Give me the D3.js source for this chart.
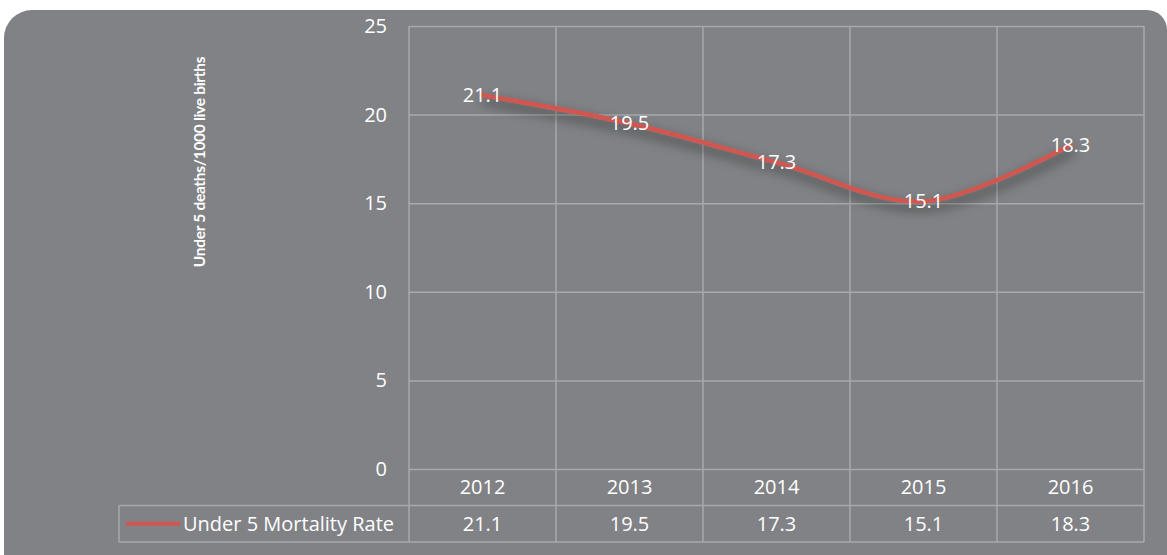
<!DOCTYPE html>
<html>
<head>
<meta charset="utf-8">
<script src="https://cdn.jsdelivr.net/npm/d3@7"></script>
<style>
  html, body { margin: 0; padding: 0; background: #ffffff; }
  #chart { width: 1167px; height: 555px; }
  text { font-family: "Open Sans", sans-serif; fill: #ffffff; }
</style>
</head>
<body>
<div id="chart"></div>
<script>
// data
var years = ["2012", "2013", "2014", "2015", "2016"];
var rates = [21.1, 19.5, 17.3, 15.1, 18.3];
var yTicks = [0, 5, 10, 15, 20, 25];
var seriesName = "Under 5 Mortality Rate";
var yTitle = "Under 5 deaths/1000 live births";

var W = 1167, H = 555;
var plot = { left: 409, right: 1144, top: 26, bottom: 469 };
var rowH = 36.5;
var legendLeft = 119;

var gridColor = "#a7a9ac";
var lineColor = "#d0574f";
var fontSize = "20px";

var svg = d3.select("#chart").append("svg")
    .attr("width", W)
    .attr("height", H);

var defs = svg.append("defs");
var shadow = defs.append("filter")
    .attr("id", "shadow")
    .attr("x", "-10%").attr("y", "-40%")
    .attr("width", "120%").attr("height", "180%");
shadow.append("feDropShadow")
    .attr("dx", 2)
    .attr("dy", 6)
    .attr("stdDeviation", 6)
    .attr("flood-color", "#000")
    .attr("flood-opacity", 0.6);

// rounded background panel
svg.append("path")
    .attr("d", "M4,38 A28,28 0 0 1 32,10 L1147,10 A20,20 0 0 1 1167,30 L1167,555 L4,555 Z")
    .attr("fill", "#818285");

const x = d3.scaleBand()
    .domain(years)
    .range([plot.left, plot.right]);

const y = d3.scaleLinear()
    .domain([0, 25])
    .range([plot.bottom, plot.top]);

// y axis with gridlines
const yAxis = d3.axisLeft(y)
    .tickValues(yTicks)
    .tickSize(-(plot.right - plot.left))
    .tickPadding(22)
    .tickFormat(d3.format("d"));

const gy = svg.append("g")
    .attr("transform", `translate(${plot.left},0)`)
    .call(yAxis);
gy.select(".domain").remove();
gy.selectAll(".tick line")
    .attr("stroke", gridColor)
    .attr("stroke-width", 1.5);
gy.selectAll(".tick text")
    .attr("fill", "#fff")
    .style("font-family", "'Open Sans', sans-serif")
    .style("font-size", fontSize);

// vertical grid + table column lines
const tableBottom = plot.bottom + rowH * 2;
const colEdges = years.map(function (d) { return x(d); }).concat([plot.right]);
svg.append("g").selectAll("line")
    .data(colEdges)
    .enter().append("line")
    .attr("x1", function (d) { return d; })
    .attr("x2", function (d) { return d; })
    .attr("y1", plot.top)
    .attr("y2", tableBottom)
    .attr("stroke", gridColor)
    .attr("stroke-width", 1.5);

// table horizontal lines
svg.append("line")
    .attr("x1", legendLeft).attr("x2", plot.right)
    .attr("y1", plot.bottom + rowH).attr("y2", plot.bottom + rowH)
    .attr("stroke", gridColor).attr("stroke-width", 1.5);
svg.append("line")
    .attr("x1", legendLeft).attr("x2", plot.right)
    .attr("y1", tableBottom).attr("y2", tableBottom)
    .attr("stroke", gridColor).attr("stroke-width", 1.5);
svg.append("line")
    .attr("x1", legendLeft).attr("x2", legendLeft)
    .attr("y1", plot.bottom + rowH).attr("y2", tableBottom)
    .attr("stroke", gridColor).attr("stroke-width", 1.5);

// table header (years) and values
svg.append("g").selectAll("text")
    .data(years)
    .enter().append("text")
    .attr("x", function (d) { return x(d) + x.bandwidth() / 2; })
    .attr("y", plot.bottom + rowH / 2)
    .attr("dy", "0.35em")
    .attr("text-anchor", "middle")
    .style("font-size", fontSize)
    .text(function (d) { return d; });

svg.append("g").selectAll("text")
    .data(rates)
    .enter().append("text")
    .attr("x", function (d, i) { return x(years[i]) + x.bandwidth() / 2; })
    .attr("y", plot.bottom + rowH * 1.5)
    .attr("dy", "0.35em")
    .attr("text-anchor", "middle")
    .style("font-size", fontSize)
    .text(function (d) { return d3.format(".1f")(d); });

// legend key in table
svg.append("line")
    .attr("x1", 126).attr("x2", 180)
    .attr("y1", plot.bottom + rowH * 1.5).attr("y2", plot.bottom + rowH * 1.5)
    .attr("stroke", lineColor)
    .attr("stroke-width", 4);
svg.append("text")
    .attr("x", 183)
    .attr("y", plot.bottom + rowH * 1.5)
    .attr("dy", "0.35em")
    .style("font-size", fontSize)
    .text(seriesName);

// y axis title
svg.append("text")
    .attr("transform", "translate(205,162) rotate(-90)")
    .attr("text-anchor", "middle")
    .style("font-family", "Lato, sans-serif")
    .style("font-size", "15.5px")
    .style("letter-spacing", "-0.3px")
    .style("font-weight", "bold")
    .text(yTitle);

// the smoothed line
const line = d3.line()
    .x(function (d, i) { return x(years[i]) + x.bandwidth() / 2; })
    .y(function (d) { return y(d); })
    .curve(d3.curveCatmullRom.alpha(0.5));

svg.append("path")
    .datum(rates)
    .attr("d", line)
    .attr("fill", "none")
    .attr("stroke", lineColor)
    .attr("stroke-width", 4.5)
    .attr("stroke-linecap", "round")
    .attr("filter", "url(#shadow)");

// data labels centered on points
svg.append("g").selectAll("text")
    .data(rates)
    .enter().append("text")
    .attr("x", function (d, i) { return x(years[i]) + x.bandwidth() / 2; })
    .attr("y", function (d) { return y(d); })
    .attr("dy", "0.35em")
    .attr("text-anchor", "middle")
    .style("font-size", fontSize)
    .text(function (d) { return d3.format(".1f")(d); });
</script>
</body>
</html>
